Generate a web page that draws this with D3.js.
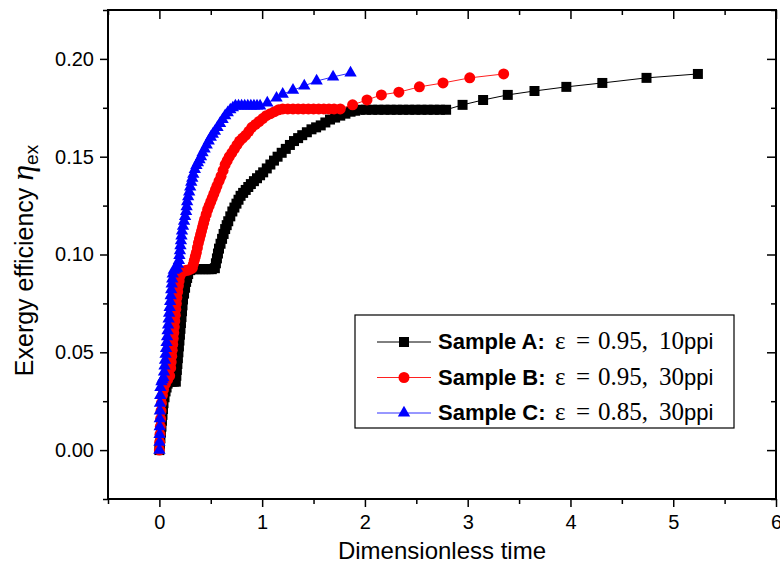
<!DOCTYPE html>
<html>
<head>
<meta charset="utf-8">
<script src="https://cdn.jsdelivr.net/npm/d3@7"></script>
<style>
    body { margin: 0; background: #fff; }
    text { font-family: "Liberation Sans", Arial, sans-serif; }
</style>
</head>
<body>
<script>
// values (markers are very dense on the rising parts)
var timeA = [0, 0.005, 0.01, 0.015, 0.02, 0.025, 0.03, 0.035, 0.04, 0.05,
    0.06, 0.07, 0.08, 0.1, 0.12, 0.14, 0.16, 0.165, 0.17, 0.175,
    0.18, 0.185, 0.19, 0.195, 0.2, 0.205, 0.21, 0.215, 0.22, 0.225,
    0.23, 0.24, 0.25, 0.26, 0.27, 0.28, 0.3, 0.33, 0.36, 0.39,
    0.42, 0.45, 0.48, 0.51, 0.54, 0.55, 0.56, 0.57, 0.58, 0.595,
    0.61, 0.625, 0.64, 0.655, 0.67, 0.69, 0.71, 0.73, 0.75, 0.77,
    0.79, 0.815, 0.84, 0.865, 0.89, 0.92, 0.95, 0.98, 1.01, 1.045,
    1.08, 1.115, 1.15, 1.19, 1.23, 1.27, 1.31, 1.35, 1.39, 1.435,
    1.48, 1.525, 1.57, 1.615, 1.66, 1.71, 1.76, 1.81, 1.86, 1.905,
    1.95, 2.01, 2.07, 2.13, 2.19, 2.25, 2.31, 2.37, 2.43, 2.49,
    2.55, 2.61, 2.67, 2.73, 2.79, 2.95, 3.15, 3.39, 3.65, 3.96,
    4.31, 4.74, 5.24];
var effA = [0, 0.003, 0.006, 0.009, 0.012, 0.015, 0.018, 0.021, 0.024, 0.027,
    0.03, 0.032, 0.034, 0.035, 0.035, 0.035, 0.035, 0.038, 0.041, 0.044,
    0.047, 0.05, 0.053, 0.056, 0.059, 0.062, 0.065, 0.068, 0.071, 0.074,
    0.077, 0.08, 0.083, 0.086, 0.088, 0.09, 0.092, 0.0925, 0.0925, 0.0925,
    0.0925, 0.0925, 0.0925, 0.0925, 0.093, 0.0955, 0.098, 0.1005, 0.103, 0.1055,
    0.108, 0.1105, 0.113, 0.115, 0.117, 0.1195, 0.122, 0.124, 0.126, 0.128,
    0.13, 0.1315, 0.133, 0.1345, 0.136, 0.1375, 0.139, 0.1405, 0.142, 0.144,
    0.146, 0.148, 0.15, 0.152, 0.154, 0.156, 0.158, 0.1595, 0.161, 0.1625,
    0.164, 0.165, 0.166, 0.1675, 0.169, 0.17, 0.171, 0.172, 0.173, 0.1735,
    0.174, 0.174, 0.174, 0.174, 0.174, 0.174, 0.174, 0.174, 0.174, 0.174,
    0.174, 0.174, 0.174, 0.174, 0.174, 0.1765, 0.179, 0.1816, 0.1836, 0.1857,
    0.1877, 0.1903, 0.1923];

var timeB = [0, 0.003, 0.006, 0.009, 0.012, 0.016, 0.02, 0.03, 0.04, 0.06,
    0.08, 0.1, 0.11, 0.115, 0.12, 0.125, 0.13, 0.135, 0.14, 0.145,
    0.15, 0.155, 0.16, 0.165, 0.17, 0.178, 0.185, 0.192, 0.2, 0.22,
    0.24, 0.26, 0.28, 0.3, 0.32, 0.33, 0.34, 0.35, 0.36, 0.37,
    0.38, 0.39, 0.4, 0.41, 0.42, 0.43, 0.44, 0.455, 0.47, 0.485,
    0.5, 0.515, 0.53, 0.545, 0.56, 0.58, 0.6, 0.62, 0.64, 0.66,
    0.68, 0.705, 0.73, 0.755, 0.78, 0.81, 0.84, 0.87, 0.9, 0.935,
    0.97, 1.005, 1.04, 1.08, 1.12, 1.16, 1.2, 1.25, 1.3, 1.35,
    1.4, 1.45, 1.5, 1.55, 1.6, 1.65, 1.7, 1.76, 1.88, 2.02,
    2.16, 2.33, 2.53, 2.76, 3.02, 3.35];
var effB = [0, 0.004, 0.008, 0.012, 0.016, 0.02, 0.024, 0.028, 0.031, 0.034,
    0.036, 0.038, 0.042, 0.045, 0.048, 0.051, 0.054, 0.057, 0.06, 0.063,
    0.066, 0.069, 0.072, 0.075, 0.078, 0.081, 0.084, 0.0865, 0.089, 0.091,
    0.0915, 0.092, 0.092, 0.0925, 0.093, 0.095, 0.097, 0.099, 0.101, 0.1035,
    0.106, 0.108, 0.11, 0.112, 0.114, 0.116, 0.118, 0.1205, 0.123, 0.125,
    0.127, 0.129, 0.131, 0.133, 0.135, 0.1375, 0.14, 0.143, 0.146, 0.148,
    0.15, 0.152, 0.154, 0.156, 0.158, 0.1595, 0.161, 0.163, 0.165, 0.1665,
    0.168, 0.1695, 0.171, 0.172, 0.173, 0.174, 0.1744, 0.1744, 0.1744, 0.1744,
    0.1744, 0.1744, 0.1744, 0.1744, 0.1744, 0.1744, 0.1744, 0.1744, 0.1765, 0.179,
    0.1816, 0.183, 0.1857, 0.1877, 0.1903, 0.1923];

var timeC = [0, 0.001, 0.002, 0.003, 0.004, 0.005, 0.006, 0.008, 0.01, 0.02,
    0.03, 0.04, 0.045, 0.05, 0.055, 0.06, 0.065, 0.07, 0.075, 0.08,
    0.085, 0.09, 0.095, 0.1, 0.105, 0.11, 0.115, 0.12, 0.125, 0.13,
    0.14, 0.155, 0.17, 0.18, 0.19, 0.195, 0.2, 0.205, 0.21, 0.215,
    0.22, 0.23, 0.24, 0.25, 0.26, 0.265, 0.27, 0.28, 0.29, 0.3,
    0.31, 0.32, 0.33, 0.345, 0.36, 0.375, 0.39, 0.405, 0.42, 0.44,
    0.46, 0.48, 0.5, 0.52, 0.54, 0.565, 0.59, 0.615, 0.64, 0.665,
    0.69, 0.715, 0.74, 0.77, 0.8, 0.83, 0.86, 0.89, 0.92, 0.95,
    0.98, 1.05, 1.14, 1.2, 1.3, 1.41, 1.53, 1.69, 1.86];
var effC = [0, 0.004, 0.008, 0.012, 0.016, 0.02, 0.024, 0.028, 0.032, 0.035,
    0.036, 0.037, 0.04, 0.043, 0.046, 0.049, 0.052, 0.055, 0.058, 0.061,
    0.064, 0.067, 0.07, 0.073, 0.076, 0.079, 0.082, 0.085, 0.0875, 0.09,
    0.092, 0.0925, 0.093, 0.095, 0.097, 0.0995, 0.102, 0.1045, 0.107, 0.1095,
    0.112, 0.1145, 0.117, 0.1195, 0.122, 0.1245, 0.127, 0.1295, 0.132, 0.1345,
    0.137, 0.139, 0.141, 0.1435, 0.1455, 0.147, 0.1485, 0.15, 0.152, 0.154,
    0.156, 0.158, 0.16, 0.1615, 0.163, 0.165, 0.167, 0.169, 0.171, 0.1725,
    0.174, 0.175, 0.176, 0.176, 0.176, 0.176, 0.176, 0.176, 0.176, 0.176,
    0.176, 0.1775, 0.18, 0.182, 0.184, 0.1862, 0.1887, 0.1908, 0.1928];

var sampleNames = ['Sample A:', 'Sample B:', 'Sample C:'];
var sampleEps = ['0.95', '0.95', '0.85'];
var samplePpi = ['10', '30', '30'];
var xTicks = [0, 1, 2, 3, 4, 5, 6];
var xMinor = [-0.5, 0.5, 1.5, 2.5, 3.5, 4.5, 5.5];
var yTicks = [0, 0.05, 0.1, 0.15, 0.2];
var yMinor = [-0.025, 0.025, 0.075, 0.125, 0.175, 0.225];

(function() {
    var w = 780,
        h = 577;
    var left = 108, right = 776, top = 10, bottom = 499;
    var serif = '"Liberation Serif", "Times New Roman", serif';

    var svg = d3.select('body')
        .append('svg')
        .attr('width', w)
        .attr('height', h);

    var x = d3.scaleLinear().domain([-0.5, 6]).range([left, right]);
    var y = d3.scaleLinear().domain([-0.025, 0.225]).range([bottom, top]);

    // axes: labelled majors outside on left/bottom, plain ticks inside on top/right
    function styleAxis(g) {
        g.select('.domain').remove();
        g.selectAll('line').attr('stroke', '#000').attr('stroke-width', 1.5);
        g.selectAll('text').attr('fill', '#000').style('font-size', '20px');
    }
    function addAxis(axis, tx, ty) {
        svg.append('g')
            .attr('transform', 'translate(' + tx + ',' + ty + ')')
            .call(axis)
            .call(styleAxis);
    }
    addAxis(d3.axisBottom(x).tickValues(xTicks).tickSize(8).tickPadding(8)
        .tickFormat(d3.format('d')), 0, bottom);
    addAxis(d3.axisBottom(x).tickValues(xMinor).tickSize(5).tickFormat(''), 0, bottom);
    addAxis(d3.axisLeft(y).tickValues(yTicks).tickSize(8).tickPadding(6)
        .tickFormat(d3.format('.2f')), left, 0);
    addAxis(d3.axisLeft(y).tickValues(yMinor).tickSize(5).tickFormat(''), left, 0);
    addAxis(d3.axisBottom(x).tickValues(xTicks).tickSize(9).tickFormat(''), 0, top);
    addAxis(d3.axisBottom(x).tickValues(xMinor).tickSize(5).tickFormat(''), 0, top);
    addAxis(d3.axisLeft(y).tickValues(yTicks).tickSize(9).tickFormat(''), right, 0);
    addAxis(d3.axisLeft(y).tickValues(yMinor).tickSize(5).tickFormat(''), right, 0);

    svg.append('rect')
        .attr('x', left).attr('y', top)
        .attr('width', right - left).attr('height', bottom - top)
        .attr('fill', 'none').attr('stroke', '#000').attr('stroke-width', 2);

    // axis titles
    svg.append('text')
        .attr('x', (left + right) / 2).attr('y', 559)
        .attr('text-anchor', 'middle')
        .style('font-size', '24px')
        .text('Dimensionless time');

    var yt = svg.append('text')
        .attr('transform', 'translate(33,' + ((top + bottom) / 2 + 6) + ') rotate(-90)')
        .attr('text-anchor', 'middle')
        .style('font-size', '25px');
    yt.append('tspan').text('Exergy efficiency ');
    yt.append('tspan')
        .style('font-family', serif)
        .style('font-style', 'italic').style('font-size', '32px')
        .text('\u03b7');
    yt.append('tspan').attr('dy', 5).style('font-size', '19px').text('ex');

    // series
    var series = [
        {t: timeA, e: effA, color: '#000000', line: '#000000', shape: d3.symbolSquare, size: 100},
        {t: timeB, e: effB, color: '#ff0000', line: '#ff2020', shape: d3.symbolCircle, size: 95},
        {t: timeC, e: effC, color: '#0000ff', line: '#3030ff', shape: d3.symbolTriangle, size: 66}
    ];
    var line = d3.line()
        .x(function(d) { return x(d[0]); })
        .y(function(d) { return y(d[1]); });

    series.forEach(function(s) {
        var pts = d3.zip(s.t, s.e);
        var g = svg.append('g');
        g.append('path')
            .datum(pts)
            .attr('d', line)
            .attr('fill', 'none')
            .attr('stroke', s.line)
            .attr('stroke-width', 1);
        g.selectAll('path.mk')
            .data(pts)
            .enter()
            .append('path')
            .attr('class', 'mk')
            .attr('d', d3.symbol().type(s.shape).size(s.size))
            .attr('transform', function(d) {
                return 'translate(' + x(d[0]) + ',' + y(d[1]) + ')';
            })
            .attr('fill', s.color);
    });

    // legend
    var lx = 355, ly = 315;
    var leg = svg.append('g');
    leg.append('rect')
        .attr('x', lx).attr('y', ly)
        .attr('width', 379).attr('height', 113)
        .attr('fill', '#fff').attr('stroke', '#000').attr('stroke-width', 1.2);

    series.forEach(function(s, i) {
        var cy = ly + 27 + i * 35.5;
        leg.append('line')
            .attr('x1', lx + 22).attr('x2', lx + 76)
            .attr('y1', cy).attr('y2', cy)
            .attr('stroke', s.line).attr('stroke-width', 1);
        leg.append('path')
            .attr('d', d3.symbol().type(s.shape).size(s.size)())
            .attr('transform', 'translate(' + (lx + 49) + ',' + cy + ')')
            .attr('fill', s.color);
        var t = leg.append('text')
            .attr('x', lx + 83).attr('y', cy + 7);
        t.append('tspan')
            .style('font-weight', 'bold').style('font-size', '22px')
            .text(sampleNames[i]);
        t.append('tspan').attr('x', lx + 200)
            .style('font-family', serif).style('font-size', '25px')
            .text('\u03b5');
        t.append('tspan').attr('x', lx + 221)
            .style('font-family', serif).style('font-size', '25px')
            .text('=');
        t.append('tspan').attr('x', lx + 243)
            .style('font-family', serif).style('font-size', '25px')
            .text(sampleEps[i] + ',');
        t.append('tspan').attr('x', lx + 304)
            .style('font-family', serif).style('font-size', '25px')
            .text(samplePpi[i]);
        t.append('tspan')
            .style('font-size', '22px')
            .text('ppi');
    });
})();
</script>
</body>
</html>
